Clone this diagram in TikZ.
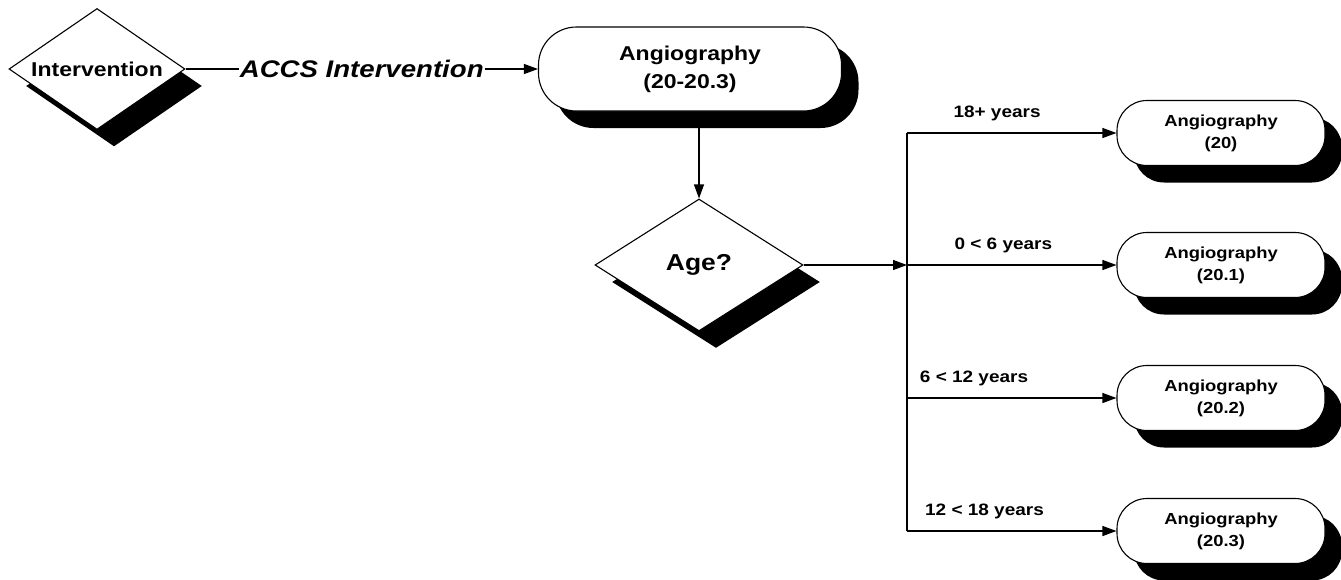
\documentclass[tikz,border=0pt]{standalone}
\usepackage{fontspec}
\setmainfont{Liberation Sans}[FakeStretch=1.15]
\usetikzlibrary{shapes.geometric,shadows,arrows.meta}

\begin{document}
\begin{tikzpicture}[x=1pt, y=-1pt, line width=1.1pt,
    solidshadow/.style={drop shadow={shadow xshift=17pt, shadow yshift=-17pt, opacity=1, fill=black}},
    decision/.style={diamond, draw, fill=white, solidshadow, inner sep=0pt},
    pill/.style={rectangle, draw, fill=white, solidshadow, align=center},
    bigpill/.style={pill, minimum width=303pt, minimum height=84pt, rounded corners=38pt,
      font=\bfseries\fontsize{20}{28}\selectfont},
    smallpill/.style={pill, minimum width=208pt, minimum height=65pt, rounded corners=30pt,
      font=\bfseries\fontsize{16}{22}\selectfont},
    arr/.style={-{Triangle[length=14pt, width=10pt]}},
    lbl/.style={font=\bfseries\fontsize{16.5}{18}\selectfont, yshift=20pt}]
  \useasboundingbox (0,0) rectangle (1341,579);

  \node[decision, aspect=1.45, minimum width=176pt, minimum height=121pt,
        font=\bfseries\fontsize{20}{24}\selectfont] (n1) at (97,69) {Intervention};
  \node[bigpill] (n2) at (690,69) {Angiography\\(20-20.3)};
  \node[decision, aspect=1.58, minimum width=208pt, minimum height=132pt,
        font=\bfseries\fontsize{23}{26}\selectfont] (n3) at (699,265) {Age?};

  \coordinate (j) at (907,265);

  \node[smallpill] (n4) at (1221,133) {Angiography\\(20)};
  \node[smallpill] (n5) at (1221,265) {Angiography\\(20.1)};
  \node[smallpill] (n6) at (1221,398) {Angiography\\(20.2)};
  \node[smallpill] (n7) at (1221,531) {Angiography\\(20.3)};

  \draw[arr] (n1.east) -- node[fill=white, inner sep=1pt,
    font=\bfseries\itshape\fontsize{24}{26}\selectfont] {ACCS Intervention} (n2.west);
  \draw[arr] (n3.north |- n2.south) -- (n3.north);
  \draw[arr] (n3.east) -- (j);

  \draw (n4.west -| j) -- (n7.west -| j);
  \draw[arr] (n4.west -| j) -- node[lbl, pos=.43] {18+ years} (n4.west);
  \draw[arr] (j) -- node[lbl, pos=.46] {0 < 6 years} (n5.west);
  \draw[arr] (n6.west -| j) -- node[lbl, pos=.32] {6 < 12 years} (n6.west);
  \draw[arr] (n7.west -| j) -- node[lbl, pos=.37] {12 < 18 years} (n7.west);
\end{tikzpicture}
\end{document}
